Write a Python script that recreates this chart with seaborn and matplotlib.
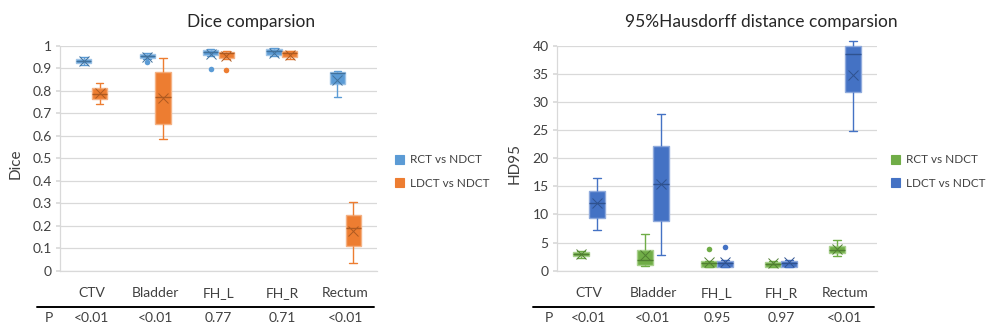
import numpy as np
import pandas as pd
import seaborn as sns
import matplotlib.pyplot as plt
from matplotlib.patches import Patch
from matplotlib.lines import Line2D

organs = ['CTV', 'Bladder', 'FH_L', 'FH_R', 'Rectum']
groups = ['RCT vs NDCT', 'LDCT vs NDCT']

# box summaries: [min, q1, median, q3, max]
dice_rct_box = [[0.915, 0.922, 0.930, 0.940, 0.948],
                [0.940, 0.945, 0.954, 0.963, 0.969],
                [0.955, 0.957, 0.970, 0.981, 0.984],
                [0.955, 0.960, 0.976, 0.985, 0.988],
                [0.773, 0.828, 0.880, 0.884, 0.886]]
dice_ldct_box = [[0.741, 0.761, 0.785, 0.813, 0.836],
                 [0.587, 0.652, 0.773, 0.881, 0.944],
                 [0.943, 0.947, 0.966, 0.972, 0.975],
                 [0.943, 0.948, 0.969, 0.975, 0.978],
                 [0.036, 0.111, 0.188, 0.247, 0.307]]
dice_rct_mean = [0.930, 0.950, 0.963, 0.969, 0.847]
dice_ldct_mean = [0.788, 0.766, 0.954, 0.958, 0.178]
dice_out_organ = ['Bladder', 'FH_L', 'FH_L']
dice_out_group = ['RCT vs NDCT', 'RCT vs NDCT', 'LDCT vs NDCT']
dice_out_value = [0.926, 0.896, 0.893]
dice_p = ['<0.01', '<0.01', '0.77', '0.71', '<0.01']

hd_rct_box = [[2.30, 2.55, 2.96, 3.26, 3.56],
              [0.83, 0.95, 1.90, 3.70, 6.60],
              [0.70, 0.71, 1.30, 1.72, 1.80],
              [0.70, 0.71, 1.20, 1.60, 1.70],
              [2.70, 3.10, 3.70, 4.40, 5.40]]
hd_ldct_box = [[7.2, 9.4, 12.0, 14.2, 16.5],
               [2.8, 8.9, 15.5, 22.1, 27.9],
               [0.70, 0.71, 1.30, 1.78, 1.85],
               [0.70, 0.71, 1.30, 1.78, 1.85],
               [24.8, 31.7, 38.6, 39.9, 40.9]]
hd_rct_mean = [3.0, 2.8, 1.5, 1.4, 3.9]
hd_ldct_mean = [12.0, 15.5, 1.6, 1.5, 34.8]
hd_out_organ = ['FH_L', 'FH_L']
hd_out_group = ['RCT vs NDCT', 'LDCT vs NDCT']
hd_out_value = [3.9, 4.2]
hd_p = ['<0.01', '<0.01', '0.95', '0.97', '<0.01']

sns.set_theme(style='white')
plt.rcParams['font.family'] = ['Lato', 'DejaVu Sans']
TXT = '#404040'


def long_df(box_a, box_b):
    rows = []
    for g, box in zip(groups, [box_a, box_b]):
        for organ, vals in zip(organs, box):
            for v in vals:
                rows.append((organ, g, v))
    return pd.DataFrame(rows, columns=['organ', 'group', 'value'])


def panel(ax, box_a, box_b, mean_a, mean_b, out_o, out_g, out_v,
          colors, dark, light, pvals, ylim, yticks, p_x):
    df = long_df(box_a, box_b)
    sns.boxplot(data=df, x='organ', y='value', hue='group', order=organs,
                hue_order=groups, palette=colors, saturation=1, width=0.5,
                gap=0.05, whis=(0, 100), linewidth=1, legend=False, ax=ax)
    for cont, c, d, l in zip(ax.containers, colors, dark, light):
        for b in cont.boxes:
            b.set_edgecolor(l)
        for w in list(cont.whiskers) + list(cont.caps):
            w.set_color(c)
        for m in cont.medians:
            m.set_color(d)

    mean_df = pd.DataFrame({'organ': organs * 2,
                            'group': [groups[0]] * 5 + [groups[1]] * 5,
                            'value': list(mean_a) + list(mean_b)})
    sns.pointplot(data=mean_df, x='organ', y='value', hue='group', order=organs,
                  hue_order=groups, palette=dark, dodge=0.25, marker='x',
                  linestyle='none', errorbar=None, markersize=7,
                  markeredgewidth=0.7, legend=False, ax=ax)
    out_df = pd.DataFrame({'organ': out_o, 'group': out_g, 'value': out_v})
    sns.pointplot(data=out_df, x='organ', y='value', hue='group', order=organs,
                  hue_order=groups, palette=colors, dodge=0.25, marker='o',
                  linestyle='none', errorbar=None, markersize=4,
                  markeredgewidth=0, legend=False, ax=ax)

    for art in ax.lines + ax.patches:
        art.set_clip_on(False)

    ax.set_xlim(-0.5, 4.5)
    ax.set_ylim(*ylim)
    ax.set_yticks(yticks)
    ax.set_yticklabels([f'{t:g}' for t in yticks])
    ax.set_xlabel('')
    ax.set_ylabel('')
    ax.yaxis.grid(True, color='#D9D9D9', lw=0.9)
    ax.set_axisbelow(True)
    for s in ['top', 'right']:
        ax.spines[s].set_visible(False)
    for s in ['left', 'bottom']:
        ax.spines[s].set_color('#D9D9D9')
        ax.spines[s].set_linewidth(0.9)
    ax.tick_params(axis='x', length=0, pad=12, labelsize=10, labelcolor=TXT)
    ax.tick_params(axis='y', length=3, color='#D9D9D9', pad=3, labelsize=10,
                   labelcolor=TXT, left=True)

    tr = ax.get_xaxis_transform()
    for i, p in enumerate(pvals):
        ax.text(i, -0.21, p, transform=tr, ha='center', va='center',
                fontsize=10, color=TXT)
    ax.text(p_x, -0.21, 'P', transform=ax.transAxes, ha='center',
            va='center', fontsize=10, color=TXT)
    ax.add_line(Line2D([-0.0735, 0.99], [-0.161, -0.161], transform=ax.transAxes,
                       color='black', lw=1.4, clip_on=False))


fig = plt.figure(figsize=(9.87, 3.29), dpi=100)
ax1 = fig.add_axes([60 / 987, 58.3 / 329, 317 / 987, 225 / 329])
ax2 = fig.add_axes([557 / 987, 58.3 / 329, 320 / 987, 225 / 329])

dice_colors = ['#5B9BD5', '#ED7D31']
dice_dark = ['#41719C', '#AE5A21']
dice_light = ['#9DC3E6', '#F4B183']
panel(ax1, dice_rct_box, dice_ldct_box, dice_rct_mean, dice_ldct_mean,
      dice_out_organ, dice_out_group, dice_out_value,
      dice_colors, dice_dark, dice_light, dice_p,
      (0, 1), np.round(np.arange(0, 1.01, 0.1), 1), -0.035)

hd_colors = ['#70AD47', '#4472C4']
hd_dark = ['#507E32', '#2F528F']
hd_light = ['#A9D18E', '#8FAADC']
panel(ax2, hd_rct_box, hd_ldct_box, hd_rct_mean, hd_ldct_mean,
      hd_out_organ, hd_out_group, hd_out_value,
      hd_colors, hd_dark, hd_light, hd_p,
      (0, 40), np.arange(0, 41, 5), -0.025)

fig.text(251 / 987, 1 - 22 / 329, 'Dice comparsion', ha='center', va='center',
         fontsize=12.5, color='#262626')
fig.text(761 / 987, 1 - 22 / 329, '95%Hausdorff distance comparsion',
         ha='center', va='center', fontsize=12.5, color='#262626')
fig.text(16 / 987, 1 - 164 / 329, 'Dice', rotation=90, ha='center',
         va='center', fontsize=11, color=TXT)
fig.text(515 / 987, 1 - 164 / 329, 'HD95', rotation=90, ha='center',
         va='center', fontsize=11, color=TXT)

for x0, cols in [(395, dice_colors), (891, hd_colors)]:
    handles = [Patch(facecolor=c, edgecolor=c, lw=0.8, label=g)
               for c, g in zip(cols, groups)]
    fig.legend(handles=handles, loc='center left',
               bbox_to_anchor=(x0 / 987, 1 - 171.5 / 329), frameon=False,
               fontsize=8.5, handlelength=0.8, handleheight=0.8,
               handletextpad=0.45, labelspacing=1.05, borderpad=0,
               borderaxespad=0, labelcolor=TXT)

fig.savefig('out.png', dpi=100)
